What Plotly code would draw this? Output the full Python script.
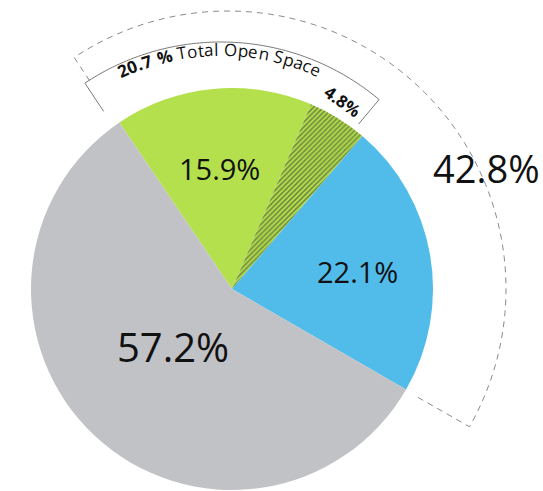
import math
import plotly.graph_objects as go

# Slice data (clockwise order, starting at the upper-left edge of the green slice)
categories = ["Open Space", "Open Space (other)", "Developed Blue", "Remainder"]
values = [15.9, 4.8, 22.1, 57.2]
colors = ["#b4e04e", "#b4e04e", "#51bcea", "#c1c2c6"]
patterns = ["", "/", "", ""]

open_total = round(values[0] + values[1], 1)          # 20.7
bracket_total = round(values[0] + values[1] + values[2], 1)  # 42.8

W, H = 543, 491
FONT = "Open Sans"

# pie geometry in pixels
PCX, PCY, PR = 232, 289, 201
# last edge of the third slice sits at 120 degrees clockwise from 12 o'clock
rotation = 120 - 3.6 * bracket_total

fig = go.Figure()
fig.add_trace(go.Pie(
    labels=categories,
    values=values,
    sort=False,
    direction="clockwise",
    rotation=rotation,
    marker=dict(
        colors=colors,
        line=dict(width=0),
        pattern=dict(shape=patterns, fgcolor="#2a2a2a", size=3.5,
                     solidity=0.45, fillmode="overlay"),
    ),
    textinfo="none",
    hoverinfo="skip",
    showlegend=False,
    domain=dict(x=[(PCX - PR) / W, (PCX + PR) / W],
                y=[(H - PCY - PR) / H, (H - PCY + PR) / H]),
))


def polar(cx, cy, r, deg):
    a = math.radians(deg)
    return cx + r * math.sin(a), cy - r * math.cos(a)


def arc_path(cx, cy, r, a0, a1, r_in0, r_in1, n=80):
    pts = [polar(cx, cy, r_in0, a0)]
    for i in range(n + 1):
        pts.append(polar(cx, cy, r, a0 + (a1 - a0) * i / n))
    pts.append(polar(cx, cy, r_in1, a1))
    return "M " + " L ".join(f"{x:.2f},{y:.2f}" for x, y in pts)


# solid bracket around the open-space slices
BCX, BCY, BR = 221, 288, 246
fig.add_shape(type="path", xref="x", yref="y",
              path=arc_path(BCX, BCY, BR, -33.6, 40.0, 212, 214),
              line=dict(color="#7a7a7a", width=1))

# dashed bracket around the three coloured slices
fig.add_shape(type="path", xref="x", yref="y",
              path=arc_path(228, 289, 278, -33.6, 119.7, 250, 218),
              line=dict(color="#8a8a8a", width=1, dash="6px,5px"))

annotations = []


def label(x, y, text, size, angle=0, bold=False):
    annotations.append(dict(
        x=x, y=y, xref="x", yref="y", showarrow=False,
        text=f"<b>{text}</b>" if bold else text,
        textangle=angle, xanchor="center", yanchor="middle",
        font=dict(family=FONT, size=size, color="#111111"),
    ))


label(219, 168, f"{values[0]}%", 29)
label(357, 271, f"{values[2]}%", 29)
label(173, 346, f"{values[3]}%", 40)
label(486, 168, f"{bracket_total}%", 38)
label(343, 101, f"{values[1]}%", 17, angle=35.5, bold=True)

# curved caption along the solid bracket
CW = {'.': 0.27, ' ': 0.26, '%': 0.82, 'T': 0.55, 'o': 0.6, 't': 0.35,
      'a': 0.56, 'l': 0.26, 'O': 0.78, 'p': 0.61, 'e': 0.56, 'n': 0.61,
      'S': 0.55, 'c': 0.48}
segments = [(f"{open_total} %", True), (" Total Open Space", False)]
CAP_SIZE, TRACK, BASE_R, MID = 17, 0.3, 233, -0.5

chars = []
for txt, bold in segments:
    for ch in txt:
        w = CW.get(ch, 0.572) * CAP_SIZE * (1.05 if bold else 1.0) + TRACK
        chars.append((ch, bold, w))
total = sum(w for _, _, w in chars)
s = -total / 2
for ch, bold, w in chars:
    centre = s + w / 2
    s += w
    if ch == " ":
        continue
    ang = MID + math.degrees(centre / BASE_R)
    x, y = polar(BCX, BCY, BASE_R + 0.32 * CAP_SIZE, ang)
    label(x, y, ch, CAP_SIZE, angle=ang, bold=bold)

fig.update_layout(
    width=W, height=H,
    margin=dict(l=0, r=0, t=0, b=0),
    paper_bgcolor="white", plot_bgcolor="white",
    xaxis=dict(range=[0, W], visible=False, fixedrange=True),
    yaxis=dict(range=[H, 0], visible=False, fixedrange=True),
    annotations=annotations,
    showlegend=False,
)

fig.write_html("out.html", config=dict(displayModeBar=False))
